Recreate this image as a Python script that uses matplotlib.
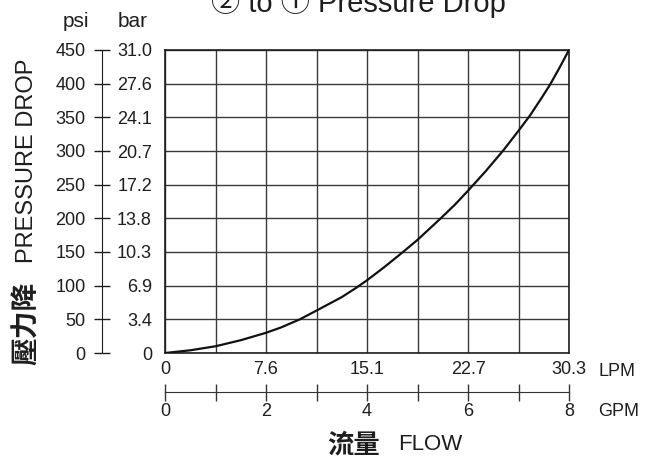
import numpy as np
import matplotlib
matplotlib.use('Agg')
import matplotlib.pyplot as plt

plt.rcParams['font.family'] = ['Liberation Sans', 'Noto Sans CJK TC', 'DejaVu Sans']

# curve (flow in GPM, pressure drop in psi)
gpm = [0, 0.5, 1, 1.5, 2, 2.3, 2.67, 3, 3.5, 3.79, 4, 4.35, 4.68, 5, 5.46, 5.75,
       6, 6.35, 6.7, 7, 7.23, 7.45, 7.62, 7.8, 8]
psi = [0, 4, 10, 19, 30, 38, 50, 63, 83, 97, 108, 128, 148, 168, 200, 221,
       241, 270, 301, 330, 353, 378, 398, 422, 450]

gpm_ticks = [0, 1, 2, 3, 4, 5, 6, 7, 8]
gpm_labels = ['0', '', '2', '', '4', '', '6', '', '8']
lpm_labels = ['0', '', '7.6', '', '15.1', '', '22.7', '', '30.3']
psi_ticks = [0, 50, 100, 150, 200, 250, 300, 350, 400, 450]
psi_labels = ['0', '50', '100', '150', '200', '250', '300', '350', '400', '450']
bar_labels = ['0', '3.4', '6.9', '10.3', '13.8', '17.2', '20.7', '24.1', '27.6', '31.0']

W, H = 651, 458
PT = 0.72  # px -> pt at dpi 100
INK = '#1e1e1e'

def fx(px):
    return px / W

def fy(py):
    return 1 - py / H

fig = plt.figure(figsize=(W / 100, H / 100), dpi=100)

# main grid
ax = fig.add_axes([fx(165), fy(353), 404 / W, 303 / H])
ax.set_xlim(0, 8)
ax.set_ylim(0, 450)
ax.plot(gpm, psi, color='#111111', lw=1.6, zorder=3, solid_joinstyle='round')
ax.set_xticks(gpm_ticks)
ax.set_xticklabels(lpm_labels)
ax.set_yticks(psi_ticks)
ax.set_yticklabels([])
ax.tick_params(axis='both', length=0, labelsize=13, colors=INK)
ax.tick_params(axis='x', pad=6)
ax.grid(True, color='#3a3a3a', lw=1)
for s in ax.spines.values():
    s.set_color(INK)
    s.set_linewidth(1.2)

# GPM scale below
tw = ax.twiny()
tw.set_xlim(0, 8)
tw.xaxis.set_ticks_position('bottom')
tw.set_xticks(gpm_ticks)
tw.set_xticklabels(gpm_labels)
tw.spines['bottom'].set_position(('outward', 39 * PT))
for k in ['top', 'left', 'right']:
    tw.spines[k].set_visible(False)
tw.spines['bottom'].set_color('#333333')
tw.tick_params(axis='x', direction='inout', length=17 * PT, width=1, pad=1.5,
               labelsize=13, color='#333333', labelcolor=INK)

# psi / bar scale on the left
axl = fig.add_axes([fx(102), fy(353), 50 / W, 303 / H])
axl.set_ylim(0, 450)
axl.patch.set_visible(False)
axl.set_xticks([])
for k in ['top', 'bottom', 'right']:
    axl.spines[k].set_visible(False)
axl.spines['left'].set_color(INK)
axl.set_yticks(psi_ticks)
axl.set_yticklabels(psi_labels)
axl.tick_params(axis='y', direction='inout', length=16 * PT, width=1, pad=6,
                labelsize=13, color=INK, labelcolor=INK)

axr = axl.twinx()
axr.set_ylim(0, 450)
for s in axr.spines.values():
    s.set_visible(False)
axr.set_yticks(psi_ticks)
axr.set_yticklabels(bar_labels)
axr.tick_params(axis='y', length=0, pad=0, labelsize=13, labelcolor=INK)
for t in axr.get_yticklabels():
    t.set_horizontalalignment('right')

# texts
fig.text(fx(76), fy(27), 'psi', ha='center', va='baseline', fontsize=15, color=INK)
fig.text(fx(133), fy(27), 'bar', ha='center', va='baseline', fontsize=15, color=INK)
fig.text(fx(358), fy(12), '② to ① Pressure Drop', ha='center', va='baseline',
         fontsize=21, color=INK)
fig.text(fx(598), fy(372), 'LPM', ha='left', va='center', fontsize=13, color=INK)
fig.text(fx(598), fy(412), 'GPM', ha='left', va='center', fontsize=13, color=INK)

fig.text(fx(27), fy(161), 'PRESSURE DROP', rotation=90, ha='center', va='center',
         fontsize=17, color=INK)
fig.text(fx(27), fy(323), '壓力降', rotation=90, ha='center', va='center',
         fontsize=20, fontweight='bold', family=['Noto Sans CJK TC'], color=INK)
fig.text(fx(354), fy(445), '流量', ha='center', va='center', fontsize=19,
         fontweight='bold', family=['Noto Sans CJK TC'], color=INK)
fig.text(fx(398), fy(445), 'FLOW', ha='left', va='center', fontsize=16, color=INK)

fig.savefig('out.png', dpi=100)
